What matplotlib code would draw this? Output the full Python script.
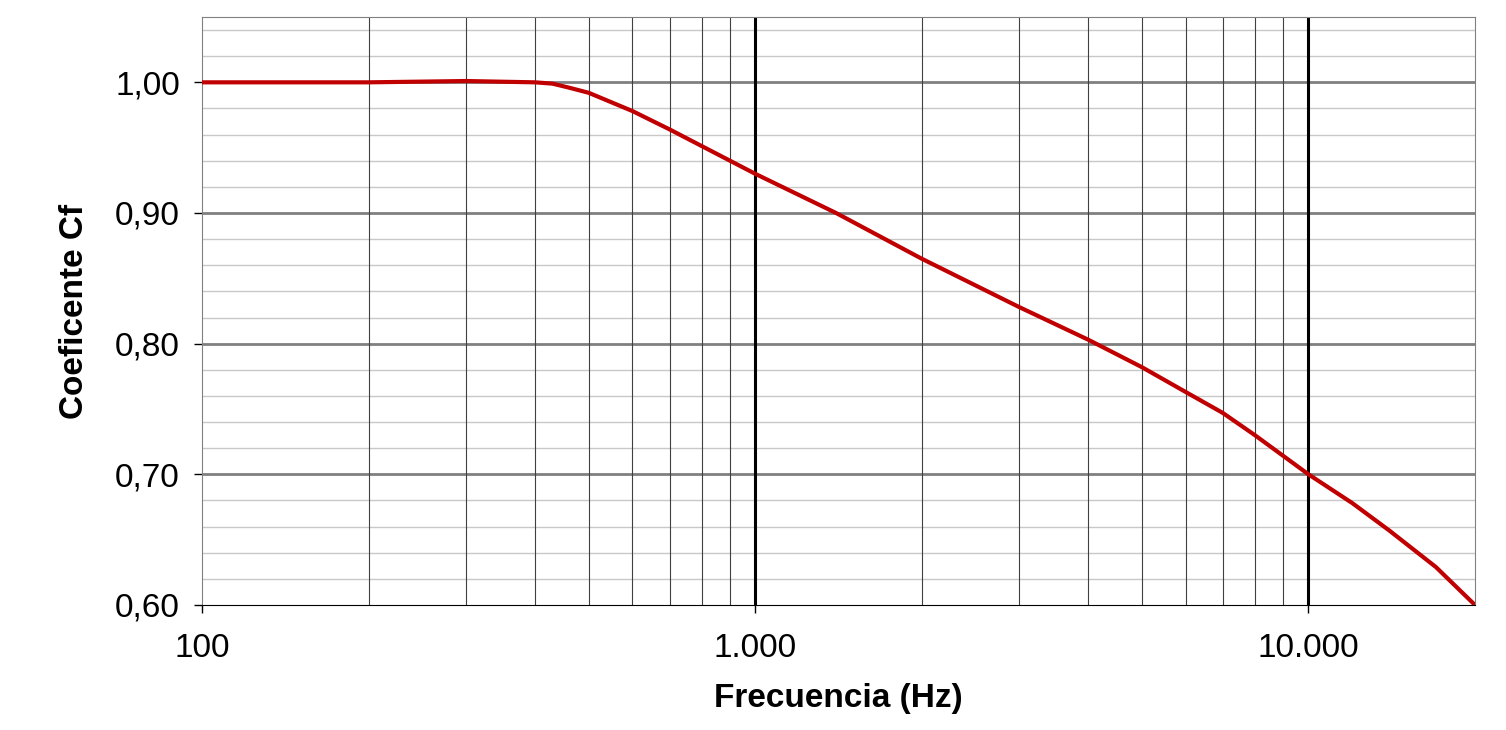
import numpy as np
import matplotlib.pyplot as plt
from matplotlib.ticker import FixedLocator, FuncFormatter, LogLocator, NullFormatter

plt.rcParams['font.family'] = ['Liberation Sans', 'DejaVu Sans']

# data
freq = [100, 200, 300, 400, 430, 460, 500, 600, 700, 1000, 1400, 2000, 3000, 4000, 5000, 6000, 7000, 8000, 10000, 12000, 14000, 17000, 20000]
cf = [1.000, 1.000, 1.001, 1.000, 0.999, 0.996, 0.992, 0.978, 0.964, 0.930, 0.900, 0.865, 0.828, 0.803, 0.782, 0.763, 0.747, 0.730, 0.700, 0.678, 0.657, 0.629, 0.600]

fig = plt.figure(figsize=(15.06, 7.30), dpi=100)
ax = fig.add_axes([202/1506, 1-605/730, (1475-202)/1506, (605-17)/730])

ax.plot(freq, cf, color='#c00000', lw=3, zorder=5, solid_joinstyle='round')

ax.set_xscale('log')
ax.set_xlim(100, 20000)
ax.set_ylim(0.60, 1.05)

# grid
for y in np.arange(0.62, 1.05, 0.02):
    if abs(round(y * 10) - y * 10) < 1e-6:
        ax.axhline(y, color='#808080', lw=2, zorder=1)
    else:
        ax.axhline(y, color='#c8c8c8', lw=1, zorder=0)
for dec in [100, 1000, 10000]:
    for m in range(2, 10):
        x = dec * m
        if x < 20000:
            ax.axvline(x, color='#404040', lw=0.8, zorder=1)
for x in [1000, 10000]:
    ax.axvline(x, color='black', lw=2.2, zorder=2)

ax.xaxis.set_major_locator(FixedLocator([100, 1000, 10000]))
ax.xaxis.set_minor_locator(LogLocator(subs=range(2, 10)))
ax.xaxis.set_minor_formatter(NullFormatter())
ax.xaxis.set_major_formatter(FuncFormatter(lambda v, p: f"{int(v):,}".replace(',', '.')))
ax.yaxis.set_major_locator(FixedLocator([0.6, 0.7, 0.8, 0.9, 1.0]))
ax.yaxis.set_major_formatter(FuncFormatter(lambda v, p: f"{v:.2f}".replace('.', ',')))
ax.tick_params(axis='both', labelsize=24, length=6, width=1)
ax.tick_params(axis='x', which='minor', length=0)
ax.tick_params(axis='x', pad=14)
ax.tick_params(axis='y', pad=10)

for s in ['top', 'right', 'left']:
    ax.spines[s].set_color('#808080')

ax.set_xlabel('Frecuencia (Hz)', fontsize=24, fontweight='bold', labelpad=14)
ax.set_ylabel('Coeficente Cf', fontsize=24, fontweight='bold', labelpad=18)

fig.savefig('out.png', dpi=100)
